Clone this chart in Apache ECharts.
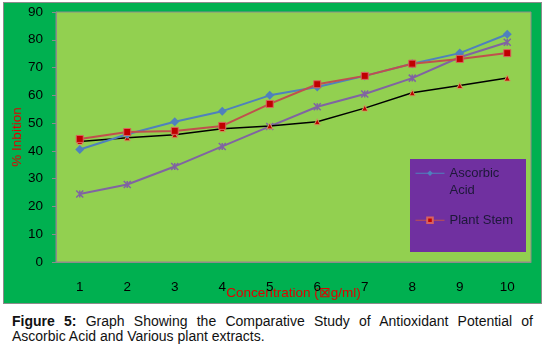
<!DOCTYPE html>
<html>
<head>
<meta charset="utf-8">
<script src="https://cdn.jsdelivr.net/npm/echarts@6/dist/echarts.min.js"></script>
<style>
  body { margin: 0; background: #fff; width: 545px; height: 353px; position: relative; overflow: hidden; }
  #main { position: absolute; left: 3px; top: 2px; width: 537px; height: 300px; border: 1px solid #8c8c8c; }
  #caption { position: absolute; left: 12px; top: 314px; width: 521px; font-family: "Liberation Sans", Arial, sans-serif;
    font-size: 14px; line-height: 15px; color: #111; text-align: justify; text-align-last: left; }
</style>
</head>
<body>
<!-- chart box -->
<div id="main"></div>
<div id="caption"><b>Figure 5:</b> Graph Showing the Comparative Study of Antioxidant Potential of Ascorbic Acid and Various plant extracts.</div>
<script>
  // values
  var concentration = ['1', '2', '3', '4', '5', '6', '7', '8', '9', '10'];
  var ascorbicAcid = [40.5, 46, 50.5, 54.3, 60, 63, 67, 71.4, 75.2, 82];
  var plantStem = [44.3, 46.8, 47.2, 49, 56.9, 64, 67, 71.4, 73.1, 75.2];
  var extract3 = [24.5, 27.9, 34.4, 41.6, 48.8, 55.9, 60.5, 66.2, 73.7, 79.1];
  var extract4 = [43.4, 44.7, 45.8, 48, 49, 50.5, 55.4, 60.9, 63.5, 66.2];

  var font = '"Liberation Sans", Arial, sans-serif';
  var myChart = echarts.init(document.getElementById('main'));
  var legendText = { fontSize: 13, lineHeight: 17.5, color: '#1d1838', fontFamily: font };
  var option = {
    backgroundColor: '#00B050',
    animation: false,
    textStyle: { fontFamily: font },
    graphic: [{
      type: 'rect',
      shape: { x: 406, y: 156, width: 116, height: 93 },
      style: { fill: '#7030A0' },
      z: 5
    }],
    legend: [{
      data: ['Ascorbic Acid'],
      // empty first line so the icon sits level with "Ascorbic"
      formatter: function () { return '\nAscorbic\nAcid'; },
      left: 411, top: 144, padding: 0,
      itemWidth: 29, itemHeight: 7,
      lineStyle: { width: 1 },
      textStyle: legendText,
      z: 6
    }, {
      data: ['Plant Stem'],
      left: 411, top: 208.5, padding: 0,
      itemWidth: 29, itemHeight: 7,
      lineStyle: { width: 1 },
      textStyle: legendText,
      z: 6
    }],
    grid: {
      left: 52, right: 10, top: 9, bottom: 41,
      outerBoundsMode: 'none',
      containLabel: false,
      show: true, backgroundColor: '#92D050', borderColor: '#8c8c8c', borderWidth: 1
    },
    xAxis: {
      type: 'category',
      data: concentration,
      boundaryGap: true,
      name: 'Concentration (\u22a0g/ml)',
      nameLocation: 'middle',
      nameGap: 24,
      nameMoveOverlap: false,
      nameTextStyle: { color: '#E00000', fontSize: 13.5, fontFamily: font },
      axisLine: { lineStyle: { color: '#8c8c8c' } },
      axisTick: { show: false },
      axisLabel: { color: '#000', fontSize: 13.5, margin: 18, fontFamily: font }
    },
    yAxis: {
      type: 'value',
      min: 0, max: 90, interval: 10,
      name: '% Inbition',
      nameLocation: 'middle',
      nameGap: 32,
      nameMoveOverlap: false,
      nameTextStyle: { color: '#E00000', fontSize: 13.5, fontFamily: font },
      axisLine: { show: true, lineStyle: { color: '#8c8c8c' } },
      axisTick: { show: true, length: 4, lineStyle: { color: '#8c8c8c' } },
      axisLabel: { color: '#000', fontSize: 13.5, margin: 13, fontFamily: font },
      splitLine: { show: false }
    },
    series: [{
      name: 'Ascorbic Acid',
      type: 'line',
      data: ascorbicAcid,
      symbol: 'diamond',
      symbolSize: 9,
      lineStyle: { color: '#4F81BD', width: 2 },
      itemStyle: { color: '#4F81BD' },
      z: 3
    }, {
      name: 'Plant Stem',
      type: 'line',
      data: plantStem,
      symbol: 'rect',
      symbolSize: 7,
      lineStyle: { color: '#C0504D', width: 2 },
      itemStyle: { color: '#C00000', borderColor: '#D9625E', borderWidth: 1 },
      z: 3
    }, {
      name: 'Extract 3',
      type: 'line',
      data: extract3,
      symbol: 'path://M0 0L10 10M10 0L0 10M5 0L5 10',
      symbolSize: 7,
      lineStyle: { color: '#8064A2', width: 2 },
      itemStyle: { color: 'rgba(0,0,0,0)', borderColor: '#8064A2', borderWidth: 1.5 },
      z: 2
    }, {
      name: 'Extract 4',
      type: 'line',
      data: extract4,
      symbol: 'triangle',
      symbolSize: 6,
      lineStyle: { color: '#000', width: 1.5 },
      itemStyle: { color: '#C00000', borderColor: '#C8A060', borderWidth: 1 },
      z: 2
    }]
  };
  myChart.setOption(option);
</script>
</body>
</html>
